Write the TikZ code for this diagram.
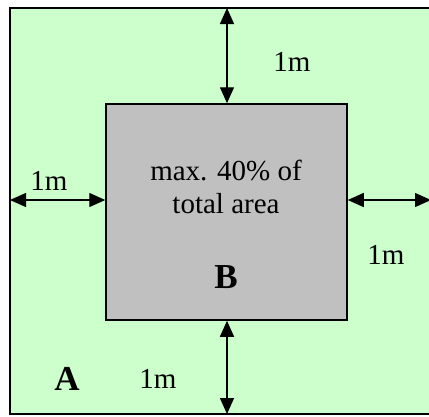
\documentclass[tikz,border=0pt]{standalone}
\usepackage{fontspec}
\setmainfont{Liberation Serif}
\usetikzlibrary{arrows.meta, positioning}
\definecolor{plotgreen}{HTML}{CCFFCC}
\definecolor{housegray}{HTML}{C0C0C0}

\begin{document}
\begin{tikzpicture}[x=1pt, y=-1pt,
    dim/.style={{Triangle[length=16pt,width=14pt]}-{Triangle[length=16pt,width=14pt]}, line width=1.4pt},
    lbl/.style={font=\fontsize{29}{33}\selectfont, inner sep=0pt},
    tag/.style={font=\fontsize{35}{38}\selectfont\bfseries, inner sep=0pt}]
    \useasboundingbox (0,0) rectangle (429,416);
    \clip (0,0) rectangle (429,416);

    % plot A with its border
    \draw[fill=plotgreen, line width=1.5pt] (10,8) rectangle (431,414);
    \coordinate (top) at (227,8);
    \coordinate (bottom) at (227,414);
    \coordinate (left) at (10,200);
    \coordinate (right) at (431,200);

    % building B
    \node[draw, line width=1.5pt, fill=housegray, minimum width=241pt, minimum height=216pt,
          inner sep=0pt] (house) at (226.5,212) {};
    \node[lbl, align=center] (share) at (226,187) {max. 40\% of\\total area};
    \node[tag] (b) at (226,277) {B};
    \node[tag] (a) at (67,379) {A};

    % distances to the border
    \draw[dim] (top) -- (top |- house.north);
    \draw[dim] (bottom |- house.south) -- (bottom);
    \draw[dim] (left) -- (left -| house.west);
    \draw[dim] (right -| house.east) -- (right);
    \node[lbl] (dtop) at (292,62) {1m};
    \node[lbl] (dleft) at (49,181) {1m};
    \node[lbl] (dright) at (386,255) {1m};
    \node[lbl] (dbottom) at (158,379) {1m};
\end{tikzpicture}
\end{document}
